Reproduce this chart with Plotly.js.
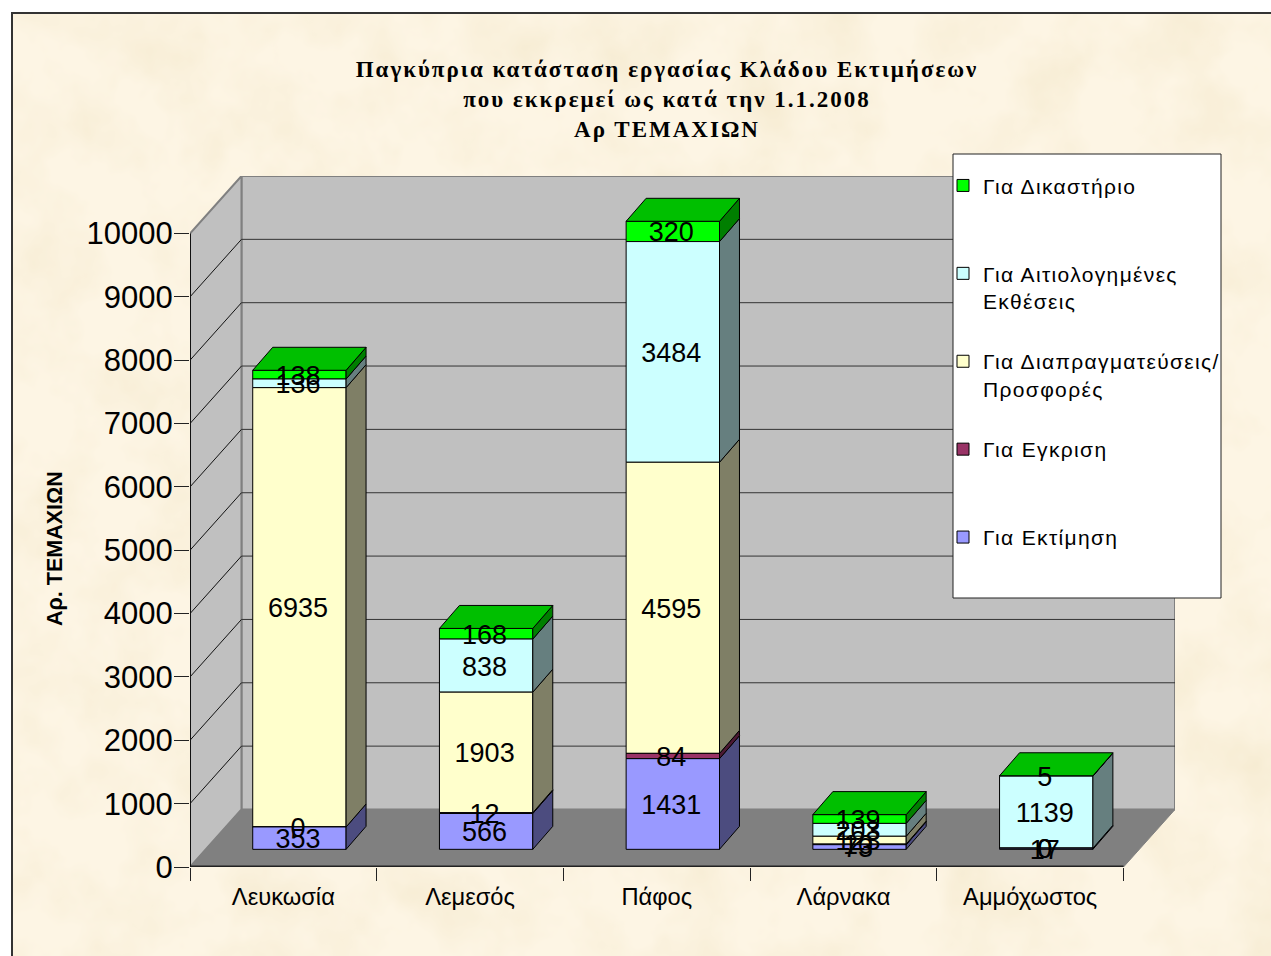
<!DOCTYPE html>
<html><head><meta charset="utf-8">
<script src="https://cdn.plot.ly/plotly-3.0.1.min.js"></script>
<style>
html,body{margin:0;padding:0;width:1271px;height:956px;overflow:hidden;background:#fff}
#bg{position:absolute;left:11px;top:12px;width:1260px;height:944px;box-sizing:border-box;border-left:2px solid #333;border-top:2px solid #333;background-color:#fdf5e4;
background-image:url("data:image/svg+xml;utf8,<svg xmlns='http://www.w3.org/2000/svg' width='1260' height='944'><filter id='f' x='0' y='0' width='100%' height='100%'><feTurbulence type='fractalNoise' baseFrequency='0.014' numOctaves='4' seed='7'/><feColorMatrix values='0 0 0 0 0.91  0 0 0 0 0.82  0 0 0 0 0.62  1 1 0 0 -0.85'/></filter><rect width='1260' height='944' filter='url(%23f)'/></svg>");}
#chart{position:absolute;left:0;top:0;width:1271px;height:956px}
.gtitle{letter-spacing:2px}
.legendtext{letter-spacing:1.35px}
</style></head><body>
<div id="bg"></div><div id="chart"></div>
<script>
const categories = ["Λευκωσία","Λεμεσός","Πάφος","Λάρνακα","Αμμόχωστος"];
const seriesNames = ["Για Εκτίμηση","Για Εγκριση","Για Διαπραγματεύσεις/<br>Προσφορές","Για Αιτιολογημένες<br>Εκθέσεις","Για Δικαστήριο"];
const evaluation = [353,566,1431,73,17];
const approval = [0,12,84,10,0];
const negotiation = [6935,1903,4595,123,0];
const justified = [136,838,3484,203,1139];
const court = [138,168,320,139,5];
const tickValues = [0,1000,2000,3000,4000,5000,6000,7000,8000,9000,10000];
const frontColors = ["#9999FF","#993366","#FFFFCC","#CCFFFF","#00FF00"];
const sideColors = ["#4C4C7F","#4C1933","#7F7F66","#667F7F","#007F00"];
const topColor = "#00BF00";
const allSeries = [evaluation,approval,negotiation,justified,court];

const WALL_X=0.2757, WALL_Y=908, BAR_X=-0.164, BAR_W=0.5, BAR_BASE=279, DEP_X=0.107, DEP_Y=363, LABEL_DY=-50, LABEL_DX=-0.008;
const XMAX=4.5+WALL_X, YMAX=10000+WALL_Y;
const PX=(p)=>(p-190)/985, PY=(p)=>(867-p)/691;
const positions=categories.map((c,i)=>i);
const NB="\u00A0";
const legendName=n=>{const parts=n.split("<br>");return NB+"<br>"+parts[0]+"<br>"+(parts[1]||NB);};
const barTraces=[];
const cum=categories.map(()=>BAR_BASE);
const sideTraces=[], labelTraces=[];
allSeries.forEach((vals,s)=>{
  const base=cum.slice();
  barTraces.unshift({type:"bar",x:positions,y:vals,base:base,offset:BAR_X,width:BAR_W,name:legendName(seriesNames[s]),
    marker:{color:frontColors[s],line:{color:"#000",width:1}},legendgroup:"g"+s,hoverinfo:"skip"});
  const sx=[],sy=[],lx=[],ly=[];
  vals.forEach((v,i)=>{
    const x1=i+BAR_X+BAR_W, b=base[i], t=b+v;
    if(v>0){sx.push(x1,x1,x1+DEP_X,x1+DEP_X,x1,null);sy.push(b,t,t+DEP_Y,b+DEP_Y,b,null);}
    lx.push(i+BAR_X+BAR_W/2+LABEL_DX);ly.push(b+v/2+LABEL_DY);
    cum[i]=t;
  });
  sideTraces.push({type:"scatter",mode:"lines",x:sx,y:sy,fill:"toself",fillcolor:sideColors[s],line:{color:"#000",width:1},showlegend:false,hoverinfo:"skip"});
  labelTraces.push({type:"scatter",mode:"text",x:lx,y:ly,text:vals.map(String),textposition:"middle center",textfont:{family:"Liberation Sans",size:27,color:"#000"},showlegend:false,hoverinfo:"skip",cliponaxis:false});
});
const tx=[],ty=[];
cum.forEach((t,i)=>{const x0=i+BAR_X,x1=x0+BAR_W;tx.push(x0,x1,x1+DEP_X,x0+DEP_X,x0,null);ty.push(t,t,t+DEP_Y,t+DEP_Y,t,null);});
const topTrace={type:"scatter",mode:"lines",x:tx,y:ty,fill:"toself",fillcolor:topColor,line:{color:"#000",width:1},showlegend:false,hoverinfo:"skip"};

const L=-0.5,R=4.5,BL=L+WALL_X,BR=R+WALL_X;
const P=(pts)=>"M"+pts.map(p=>p[0]+","+p[1]).join("L")+"Z";
const shapes=[
 {type:"path",layer:"below",xref:"x",yref:"y",path:P([[BL,WALL_Y],[BR,WALL_Y],[BR,YMAX],[BL,YMAX]]),fillcolor:"#C0C0C0",line:{color:"#808080",width:2}},
 {type:"path",layer:"below",xref:"x",yref:"y",path:P([[L,0],[BL,WALL_Y],[BL,YMAX],[L,10000]]),fillcolor:"#C0C0C0",line:{color:"#808080",width:2}},
 {type:"path",layer:"below",xref:"x",yref:"y",path:P([[L,0],[R,0],[BR,WALL_Y],[BL,WALL_Y]]),fillcolor:"#808080",line:{color:"#808080",width:1}},
];
tickValues.slice(1,-1).forEach(v=>{
  shapes.push({type:"line",layer:"below",xref:"x",yref:"y",x0:L,y0:v,x1:BL,y1:v+WALL_Y,line:{color:"#111",width:1}});
  shapes.push({type:"line",layer:"below",xref:"x",yref:"y",x0:BL,y0:v+WALL_Y,x1:BR,y1:v+WALL_Y,line:{color:"#333",width:1}});
});
shapes.push({type:"line",layer:"below",xref:"x",yref:"y",x0:L,y0:0,x1:R,y1:0,line:{color:"#222",width:3}});
shapes.push({type:"line",layer:"below",xref:"x",yref:"y",x0:L,y0:0,x1:L,y1:10000,line:{color:"#111",width:2}});
shapes.push({type:"rect",layer:"above",xref:"paper",yref:"paper",x0:PX(953),x1:PX(1221),y0:PY(598),y1:PY(154),fillcolor:"#fff",line:{color:"#222",width:1}});

const layout={
  width:1271,height:956,margin:{l:190,r:96,t:176,b:89,pad:0},
  paper_bgcolor:"rgba(0,0,0,0)",plot_bgcolor:"rgba(0,0,0,0)",
  barmode:"overlay",showlegend:true,
  title:{text:"Παγκύπρια κατάσταση εργασίας Κλάδου Εκτιμήσεων<br>που εκκρεμεί ως κατά την 1.1.2008<br>Αρ ΤΕΜΑΧΙΩΝ",
    font:{family:"Liberation Serif",size:23,color:"#000",weight:700},x:667/1271,xanchor:"center",y:1-77/956,yanchor:"middle"},
  xaxis:{type:"linear",range:[L,XMAX],tickmode:"array",tickvals:positions,ticktext:categories,ticks:"",ticklabelstandoff:13,
    minor:{tickmode:"array",tickvals:[-0.5,0.5,1.5,2.5,3.5,4.5],ticks:"outside",ticklen:13,tickcolor:"#222",tickwidth:1,showgrid:false},
    showgrid:false,zeroline:false,showline:false,tickfont:{family:"Liberation Sans",size:23.7,color:"#000"}},
  yaxis:{range:[0,YMAX],tickmode:"array",tickvals:tickValues,tickformat:"d",ticks:"outside",ticklen:15,tickcolor:"#222",tickwidth:1,showgrid:false,zeroline:false,showline:false,ticklabelstandoff:-5,
    tickfont:{family:"Liberation Sans",size:31,color:"#000"}},
  annotations:[{text:"Αρ. ΤΕΜΑΧΙΩΝ",xref:"paper",yref:"paper",x:PX(55),y:PY(549),xanchor:"center",yanchor:"middle",textangle:-90,showarrow:false,font:{family:"Liberation Sans",size:21.5,color:"#000",weight:700}}],
  legend:{x:PX(943),y:PY(138),xanchor:"left",yanchor:"top",traceorder:"grouped",tracegroupgap:3,bgcolor:"rgba(0,0,0,0)",borderwidth:0,
    font:{family:"Liberation Sans",size:21,color:"#000"},itemclick:false,itemdoubleclick:false},
  shapes:shapes
};
Plotly.newPlot("chart",[...barTraces,...sideTraces,topTrace,...labelTraces],layout,{displayModeBar:false,staticPlot:true});
</script></body></html>
